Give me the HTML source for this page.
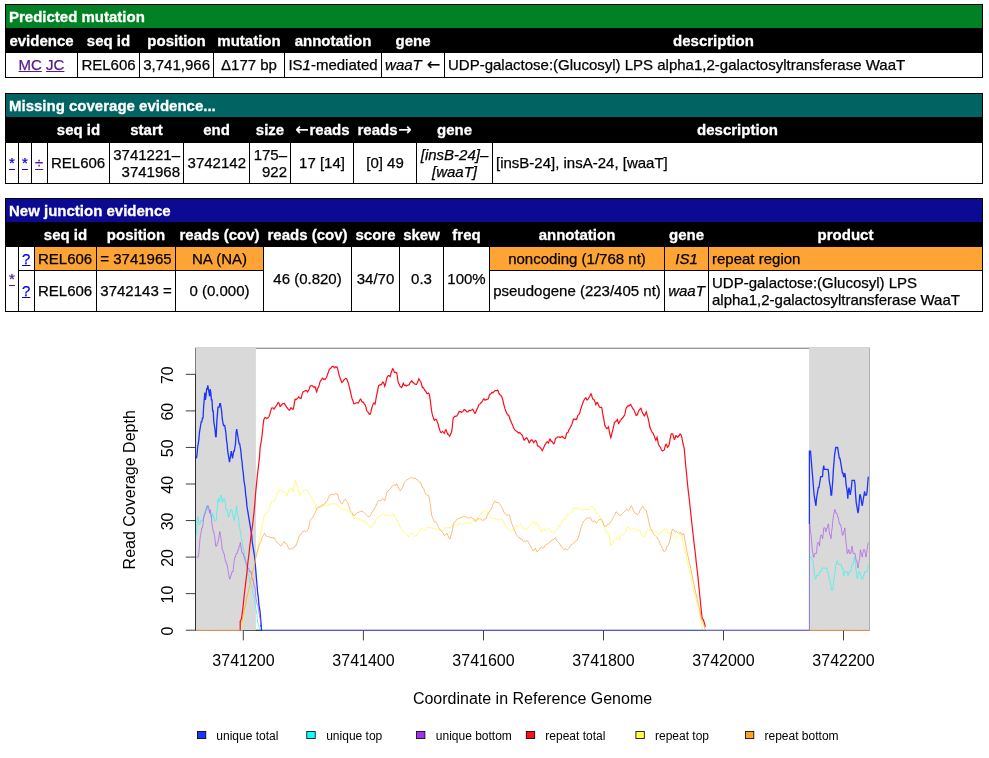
<!DOCTYPE html>
<html>
<head>
<meta charset="utf-8">
<title>BRESEQ :: Evidence</title>
<style>
html,body{margin:0;padding:0;background:#fff;}
body{font-family:"Liberation Sans",Arial,Helvetica,sans-serif;font-size:15px;color:#000;width:989px;height:758px;overflow:hidden;position:relative;}
table{border-collapse:separate;border-spacing:1px;background:#010000;color:#000;position:absolute;left:5px;width:978px;table-layout:fixed;}
th{-webkit-text-stroke:0.3px #fff;background:#000;color:#fff;font-weight:bold;padding:3px 3px 0;vertical-align:top;text-align:center;white-space:nowrap;line-height:17px;overflow:visible;}
td{-webkit-text-stroke:0.25px currentColor;padding:0 3px;line-height:17px;background:#fff;white-space:nowrap;overflow:visible;}
td.u{padding-bottom:2px;}
td.c{text-align:center;}
td.r{text-align:right;}
th.hd{text-align:left;}
.mut th.hd{background:#008123;}
.mc th.hd{background:#026363;}
.jc th.hd{background:#0c0993;}
td.is{background:#fda434;}
a{color:#551a8b;text-decoration:underline;}
a.b{color:#0000ee;}
i{font-style:italic;}
.ar{font-family:"DejaVu Sans",sans-serif;font-weight:normal;font-style:normal;display:inline-block;width:15px;text-align:center;line-height:1;font-size:16px;vertical-align:baseline;}
#t1{top:4px;}
#t1 td{vertical-align:top;padding-top:3px;}
#t2{top:93px;}
#t3{top:198px;}
</style>
</head>
<body>
<table id="t1" class="mut">
<colgroup><col style="width:71px"><col style="width:61px"><col style="width:73px"><col style="width:70px"><col style="width:96px"><col style="width:62px"><col></colgroup>
<tr style="height:23px"><th colspan="7" class="hd">Predicted mutation</th></tr>
<tr style="height:23px"><th>evidence</th><th>seq&nbsp;id</th><th>position</th><th>mutation</th><th>annotation</th><th>gene</th><th>description</th></tr>
<tr style="height:24px"><td class="c"><a href="#">MC</a> <a href="#">JC</a></td><td class="c">REL606</td><td class="r">3,741,966</td><td class="c">Δ177 bp</td><td class="c">IS<i>1</i>-mediated</td><td class="c"><i>waaT</i>&nbsp;<span class="ar">←</span></td><td>UDP-galactose:(Glucosyl) LPS alpha1,2-galactosyltransferase WaaT</td></tr>
</table>

<table id="t2" class="mc">
<colgroup><col style="width:12px"><col style="width:12px"><col style="width:15px"><col style="width:61px"><col style="width:73px"><col style="width:65px"><col style="width:40px"><col style="width:62px"><col style="width:62px"><col style="width:75px"><col></colgroup>
<tr style="height:23px"><th colspan="11" class="hd">Missing coverage evidence...</th></tr>
<tr style="height:24px"><th>&nbsp;</th><th>&nbsp;</th><th>&nbsp;</th><th>seq&nbsp;id</th><th>start</th><th>end</th><th>size</th><th><span class="ar">←</span>reads</th><th>reads<span class="ar">→</span></th><th>gene</th><th>description</th></tr>
<tr style="height:40px"><td class="u"><a class="b" href="#">*</a></td><td class="u"><a class="b" href="#">*</a></td><td class="u"><a href="#">÷</a></td><td class="u">REL606</td><td class="r">3741221–<br>3741968</td><td class="r u">3742142</td><td class="r">175–<br>922</td><td class="c u">17 [14]</td><td class="c u">[0] 49</td><td class="c"><i>[insB-24]–<br>[waaT]</i></td><td class="u">[insB-24], insA-24, [waaT]</td></tr>
</table>

<table id="t3" class="jc">
<colgroup><col style="width:12px"><col style="width:15px"><col style="width:61px"><col style="width:78px"><col style="width:87px"><col style="width:87px"><col style="width:47px"><col style="width:43px"><col style="width:45px"><col style="width:174px"><col style="width:43px"><col></colgroup>
<tr style="height:23px"><th colspan="12" class="hd">New junction evidence</th></tr>
<tr style="height:23px"><th colspan="2">&nbsp;</th><th>seq&nbsp;id</th><th>position</th><th>reads&nbsp;(cov)</th><th>reads&nbsp;(cov)</th><th>score</th><th>skew</th><th>freq</th><th>annotation</th><th>gene</th><th>product</th></tr>
<tr style="height:23px"><td rowspan="2" class="u"><a href="#">*</a></td><td><a class="b" href="#">?</a></td><td class="is">REL606</td><td class="is c">=&nbsp;3741965</td><td class="is c">NA (NA)</td><td rowspan="2" class="c u">46 (0.820)</td><td rowspan="2" class="c u">34/70</td><td rowspan="2" class="c u">0.3</td><td rowspan="2" class="c u">100%</td><td class="is c">noncoding&nbsp;(1/768&nbsp;nt)</td><td class="is c"><i>IS1</i></td><td class="is">repeat region</td></tr>
<tr style="height:40px"><td class="u"><a class="b" href="#">?</a></td><td class="u">REL606</td><td class="c u">3742143&nbsp;=</td><td class="c u">0 (0.000)</td><td class="c u">pseudogene&nbsp;(223/405&nbsp;nt)</td><td class="c u"><i>waaT</i></td><td style="white-space:normal">UDP-galactose:(Glucosyl) LPS alpha1,2-galactosyltransferase WaaT</td></tr>
</table>

<svg id="plot" width="989" height="438" viewBox="0 320 989 438" style="position:absolute;left:0;top:320px;font-family:'Liberation Sans',Arial,sans-serif;">
<rect x="195.5" y="348.2" width="673.8" height="282.1" fill="none" stroke="#000" stroke-opacity="0.55" stroke-width="1"/>
<g stroke="#000" stroke-opacity="0.75" stroke-width="1" fill="none">
<path d="M195.5 374.35V630.2"/>
<path d="M185.8 374.35H195.5M185.8 410.90H195.5M185.8 447.45H195.5M185.8 484.00H195.5M185.8 520.55H195.5M185.8 557.10H195.5M185.8 593.65H195.5M185.8 630.20H195.5"/>
<path d="M243.3 630.3H262"/>
<path d="M243.3 630.3V640.4M363.4 630.3V640.4M483.5 630.3V640.4M603.5 630.3V640.4M723.5 630.3V640.4M843.5 630.3V640.4"/>
</g>
<rect x="195.9" y="347.9" width="60" height="282.3" fill="#d9d9d9"/>
<rect x="809.1" y="347.9" width="60.35" height="282.3" fill="#d9d9d9"/>
<g id="curves" fill="none" stroke-linejoin="miter">
<path stroke="#1c34fa" stroke-width="1.3" d="M196.4 458.4L197.0 454.8L197.6 447.5L198.2 443.8L198.8 440.1L199.4 432.8L200.0 429.2L200.6 425.5L201.2 421.9L201.8 421.9L202.4 418.2L203.0 418.2L203.6 407.2L204.2 399.9L204.8 392.6L205.4 399.9L206.0 396.3L206.6 389.0L207.2 389.0L207.8 385.3L208.4 389.0L209.0 392.6L209.6 396.3L210.2 389.0L210.8 392.6L211.4 399.9L212.0 399.9L212.6 410.9L213.2 410.9L213.8 421.9L214.4 425.5L215.0 429.2L215.6 436.5L216.2 436.5L216.8 421.9L217.4 414.6L218.0 407.2L219.2 407.2L219.8 403.6L220.4 403.6L221.0 407.2L221.6 410.9L222.2 418.2L222.8 421.9L223.5 425.5L224.7 425.5L225.3 429.2L225.9 432.8L226.5 440.1L227.1 443.8L227.7 451.1L228.3 454.8L228.9 458.4L229.5 462.1L230.1 458.4L230.7 454.8L231.3 451.1L231.9 454.8L232.5 458.4L233.1 454.8L233.7 451.1L234.3 451.1L234.9 447.5L235.5 443.8L236.1 432.8L236.7 429.2L237.3 432.8L237.9 436.5L238.5 440.1L239.1 443.8L239.7 443.8L240.3 447.5L240.9 451.1L241.5 458.4L242.1 462.1L242.7 469.4L243.3 473.0L243.9 480.3L244.5 484.0L245.1 487.7L245.7 495.0L246.3 498.6L246.9 505.9L247.5 509.6L248.1 513.2L248.7 516.9L249.3 520.6L249.9 524.2L250.5 527.9L251.1 531.5L251.7 535.2L252.3 542.5L252.9 546.1L253.5 549.8L254.1 553.4L254.7 557.1L255.3 564.4L255.9 571.7L256.5 579.0L257.1 586.3L257.7 593.7L258.3 597.3L258.9 604.6L259.5 608.3L260.1 611.9L260.7 619.2L261.3 626.5"/>
<path stroke="#1c34fa" stroke-width="1.3" d="M809.9 451.1L810.5 451.1L811.1 458.4L811.7 465.7L812.3 473.0L812.9 480.3L813.5 487.7L814.1 495.0L814.7 498.6L815.3 502.3L815.9 505.9L816.5 498.6L817.1 495.0L817.7 491.3L818.3 487.7L818.9 487.7L819.5 484.0L820.1 480.3L820.7 476.7L822.5 476.7L823.1 469.4L823.7 465.7L824.3 469.4L828.0 469.4L828.6 473.0L829.2 480.3L829.8 484.0L830.4 487.7L831.0 495.0L831.6 495.0L832.2 487.7L832.8 480.3L833.4 469.4L834.0 462.1L834.6 454.8L835.2 451.1L835.8 447.5L837.6 447.5L838.2 451.1L838.8 454.8L839.4 458.4L840.0 458.4L840.6 462.1L841.2 465.7L841.8 469.4L842.4 473.0L843.0 473.0L843.6 476.7L844.2 476.7L844.8 473.0L845.4 476.7L846.0 484.0L846.6 487.7L847.2 491.3L847.8 498.6L848.4 491.3L849.0 487.7L849.6 491.3L850.2 495.0L850.8 491.3L851.4 487.7L852.0 480.3L854.4 480.3L855.0 484.0L855.6 495.0L856.2 502.3L856.8 505.9L857.4 509.6L858.0 513.2L858.6 509.6L859.2 502.3L859.8 495.0L860.4 495.0L861.0 498.6L861.6 502.3L862.2 505.9L862.8 502.3L863.4 498.6L864.0 495.0L864.6 491.3L865.3 495.0L866.5 495.0L867.1 491.3L867.7 484.0L868.3 476.7"/>
<path stroke="#3df2f2" stroke-width="0.75" d="M196.4 535.2L197.0 524.2L197.6 516.9L198.2 516.9L198.8 524.2L200.0 524.2L200.6 520.6L203.0 520.6L203.6 516.9L204.2 513.2L204.8 513.2L205.4 509.6L206.0 509.6L206.6 505.9L207.2 505.9L207.8 509.6L209.6 509.6L210.2 513.2L210.8 516.9L212.0 516.9L212.6 513.2L213.2 516.9L213.8 516.9L214.4 520.6L216.2 520.6L216.8 513.2L217.4 505.9L218.0 498.6L218.6 498.6L219.2 502.3L219.8 498.6L220.4 498.6L221.0 495.0L221.6 498.6L222.2 502.3L222.8 502.3L223.5 498.6L224.7 498.6L225.3 502.3L225.9 509.6L227.1 509.6L227.7 513.2L228.3 516.9L228.9 516.9L229.5 513.2L230.1 513.2L230.7 509.6L231.9 509.6L232.5 513.2L233.1 516.9L233.7 516.9L234.3 520.6L234.9 516.9L235.5 513.2L236.1 509.6L236.7 505.9L237.3 513.2L237.9 516.9L238.5 516.9L239.1 524.2L239.7 527.9L240.3 531.5L240.9 535.2L241.5 538.8L242.1 542.5L242.7 546.1L243.3 549.8L243.9 549.8L244.5 553.4L245.1 557.1L245.7 560.8L246.3 564.4L246.9 568.1L247.5 571.7L248.1 575.4L248.7 575.4L249.3 579.0L249.9 582.7L250.5 582.7L251.1 586.3L251.7 586.3L252.3 590.0L252.9 593.7L253.5 593.7L254.1 597.3L254.7 601.0L255.3 604.6L255.9 608.3L256.5 611.9L257.1 615.6L257.7 622.9L258.3 622.9L258.9 626.5L259.5 630.2"/>
<path stroke="#3df2f2" stroke-width="0.75" d="M809.9 557.1L811.7 557.1L812.3 560.8L812.9 560.8L813.5 564.4L814.1 571.7L814.7 575.4L815.3 579.0L815.9 579.0L816.5 575.4L818.9 575.4L819.5 571.7L821.3 571.7L821.9 568.1L826.8 568.1L827.4 571.7L828.0 571.7L828.6 575.4L829.2 579.0L829.8 579.0L830.4 582.7L831.0 586.3L831.6 590.0L832.8 590.0L833.4 582.7L834.0 579.0L834.6 575.4L835.2 571.7L835.8 564.4L836.4 564.4L837.0 560.8L837.6 560.8L838.2 564.4L841.2 564.4L841.8 568.1L843.0 568.1L843.6 575.4L844.2 575.4L844.8 571.7L847.2 571.7L847.8 575.4L848.4 575.4L849.0 571.7L850.8 571.7L851.4 568.1L852.0 564.4L853.2 564.4L853.8 560.8L854.4 557.1L855.0 560.8L855.6 564.4L856.2 571.7L856.8 575.4L857.4 579.0L858.0 575.4L858.6 571.7L859.8 571.7L860.4 575.4L861.0 575.4L861.6 579.0L862.8 579.0L863.4 575.4L864.0 575.4L864.6 571.7L867.1 571.7L867.7 568.1L868.3 564.4"/>
<path stroke="#b060ea" stroke-width="0.75" d="M196.4 557.1L198.2 557.1L198.8 553.4L199.4 546.1L200.0 538.8L200.6 535.2L201.2 531.5L201.8 527.9L202.4 527.9L203.0 524.2L203.6 516.9L204.2 516.9L204.8 513.2L205.4 513.2L206.0 509.6L206.6 509.6L207.2 505.9L208.4 505.9L209.0 509.6L209.6 513.2L210.2 509.6L210.8 513.2L211.4 516.9L212.0 524.2L212.6 527.9L213.2 531.5L213.8 531.5L214.4 535.2L215.0 538.8L215.6 546.1L216.8 546.1L217.4 542.5L218.0 542.5L218.6 538.8L219.2 535.2L219.8 531.5L220.4 535.2L221.0 538.8L221.6 542.5L222.2 549.8L222.8 549.8L223.5 553.4L224.1 553.4L224.7 557.1L225.3 560.8L225.9 560.8L226.5 564.4L227.1 564.4L227.7 568.1L228.3 571.7L228.9 575.4L229.5 579.0L230.1 579.0L230.7 575.4L231.3 575.4L231.9 571.7L233.1 571.7L233.7 564.4L234.3 560.8L234.9 557.1L235.5 557.1L236.1 553.4L237.3 553.4L237.9 549.8L238.5 549.8L239.1 546.1L239.7 546.1L240.3 542.5L240.9 546.1L241.5 549.8L242.1 553.4L243.3 553.4L243.9 557.1L244.5 557.1L245.1 560.8L245.7 560.8L246.3 564.4L246.9 564.4L247.5 568.1L248.7 568.1L249.3 571.7L251.1 571.7L251.7 575.4L252.3 579.0L252.9 579.0L253.5 582.7L254.1 586.3L254.7 586.3L255.3 590.0L255.9 597.3L256.5 601.0L257.1 604.6L257.7 604.6L258.3 608.3L258.9 611.9L259.5 615.6L260.1 619.2L260.7 626.5"/>
<path stroke="#b060ea" stroke-width="0.75" d="M809.9 524.2L810.5 531.5L811.1 535.2L811.7 542.5L812.3 549.8L812.9 553.4L813.5 557.1L814.1 557.1L814.7 553.4L816.5 553.4L817.1 546.1L817.7 542.5L818.9 542.5L819.5 546.1L820.1 538.8L820.7 535.2L821.9 535.2L822.5 538.8L823.1 535.2L823.7 527.9L825.0 527.9L825.6 531.5L826.2 531.5L826.8 527.9L827.4 527.9L828.0 524.2L828.6 524.2L829.2 531.5L829.8 535.2L830.4 535.2L831.0 538.8L831.6 531.5L832.2 527.9L832.8 520.6L833.4 516.9L834.0 513.2L834.6 509.6L835.2 509.6L835.8 513.2L837.0 513.2L837.6 516.9L838.2 516.9L838.8 520.6L839.4 524.2L840.6 524.2L841.2 527.9L841.8 531.5L842.4 535.2L843.0 535.2L843.6 531.5L844.2 531.5L844.8 527.9L845.4 535.2L846.0 542.5L846.6 546.1L847.2 553.4L847.8 553.4L848.4 549.8L849.0 549.8L849.6 553.4L850.8 553.4L851.4 549.8L852.0 546.1L852.6 549.8L853.2 553.4L855.0 553.4L855.6 557.1L856.2 560.8L856.8 560.8L857.4 564.4L858.0 568.1L858.6 564.4L859.2 560.8L859.8 557.1L860.4 549.8L861.0 553.4L861.6 553.4L862.2 557.1L862.8 553.4L863.4 549.8L864.6 549.8L865.3 553.4L865.9 557.1L866.5 553.4L867.1 549.8L867.7 546.1L868.3 542.5"/>
<path stroke="#fc0d1b" stroke-width="1.2" d="M240.3 621.0L240.9 619.8L241.5 618.5L242.1 614.2L242.7 609.7L243.3 604.4L243.9 598.2L244.5 592.7L245.1 587.9L245.7 582.6L246.3 577.9L246.9 572.7L247.5 566.2L248.1 560.7L248.7 556.4L249.3 550.9L249.9 545.3L250.5 540.4L251.1 535.1L251.7 530.5L252.3 527.1L252.9 522.5L253.5 516.7L254.1 511.3L254.7 505.1L255.3 497.2L255.9 490.1L256.5 484.2L257.1 478.3L257.7 472.8L258.3 467.5L258.9 462.3L259.5 457.1L260.1 447.6L260.7 444.6L261.3 441.0L261.9 436.8L262.5 431.1L263.1 425.2L263.8 419.7L264.4 418.6L265.0 417.5L265.6 417.7L266.2 418.0L266.8 418.6L267.4 418.0L268.0 417.7L268.6 417.1L269.2 416.3L269.8 414.4L270.4 411.9L271.0 409.9L271.6 408.1L272.2 408.0L272.8 407.8L273.4 408.2L274.0 409.1L274.6 408.2L275.2 407.3L275.8 406.4L276.4 405.5L277.0 404.7L277.6 403.3L278.2 402.5L278.8 403.0L279.4 404.2L280.0 406.5L280.6 406.2L281.2 405.2L281.8 404.8L282.4 404.0L283.0 403.6L283.6 403.7L284.2 403.4L284.8 404.4L285.4 405.4L286.0 406.2L286.6 407.2L287.2 407.9L287.8 408.6L288.4 409.4L289.0 410.1L289.6 410.1L290.2 409.1L290.8 407.8L291.4 408.0L292.0 408.7L292.6 409.1L293.2 409.3L293.8 406.6L294.4 403.1L295.0 399.3L295.6 399.4L296.2 399.5L296.8 399.1L297.4 398.4L298.0 397.8L298.6 396.8L299.2 397.3L299.8 398.1L300.4 398.4L301.0 398.5L301.6 396.3L302.2 394.1L302.8 392.3L303.5 391.5L304.1 391.3L304.7 391.0L305.3 390.4L305.9 390.8L306.5 390.6L307.1 391.0L307.7 392.0L308.3 390.7L308.9 389.8L309.5 388.4L310.1 386.1L310.7 385.9L311.3 385.7L311.9 385.5L312.5 386.0L313.1 386.3L313.7 387.0L314.3 387.4L314.9 386.7L315.5 387.8L316.1 390.3L316.7 391.8L317.3 389.5L317.9 387.8L318.5 387.0L319.1 385.4L319.7 382.8L320.3 381.2L320.9 380.3L321.5 379.9L322.1 378.7L322.7 378.2L323.3 379.0L323.9 379.5L324.5 379.1L325.1 379.5L325.7 378.7L326.3 377.8L326.9 376.2L327.5 374.4L328.1 373.1L328.7 371.3L329.3 369.4L329.9 368.7L330.5 368.6L331.1 367.9L331.7 367.2L332.3 366.5L332.9 366.2L333.5 366.5L334.1 367.6L334.7 367.9L335.3 367.0L335.9 366.8L336.5 367.4L337.1 367.3L337.7 369.1L338.3 371.4L338.9 374.0L339.5 376.1L340.1 378.1L340.7 379.9L341.3 380.9L341.9 382.6L342.5 382.2L343.1 381.2L343.8 380.2L344.4 379.3L345.0 378.9L345.6 378.4L346.2 378.5L346.8 379.1L347.4 380.7L348.0 382.2L348.6 384.2L349.2 386.7L349.8 389.0L350.4 391.5L351.0 394.3L351.6 396.8L352.2 399.0L352.8 400.3L353.4 402.6L354.0 403.9L354.6 403.8L355.2 403.4L355.8 403.1L356.4 402.7L357.0 402.6L357.6 402.9L358.2 403.1L358.8 402.3L359.4 401.1L360.0 399.6L360.6 399.1L361.2 399.7L361.8 401.5L362.4 402.1L363.0 401.9L363.6 402.5L364.2 403.8L364.8 404.5L365.4 405.5L366.0 407.3L366.6 410.2L367.2 411.4L367.8 411.8L368.4 412.7L369.0 413.8L369.6 414.3L370.2 414.2L370.8 412.7L371.4 409.5L372.0 407.3L372.6 405.6L373.2 403.9L373.8 403.0L374.4 403.3L375.0 404.1L375.6 401.3L376.2 397.5L376.8 394.3L377.4 392.0L378.0 388.8L378.6 385.5L379.2 385.3L379.8 384.9L380.4 384.7L381.0 385.0L381.6 384.1L382.2 383.1L382.8 382.1L383.4 382.4L384.1 384.2L384.7 386.2L385.3 384.5L385.9 382.3L386.5 379.5L387.1 377.3L387.7 376.4L388.3 375.7L388.9 375.7L389.5 376.0L390.1 376.6L390.7 374.3L391.3 372.3L391.9 370.8L392.5 368.8L393.1 369.0L393.7 370.5L394.3 372.2L394.9 372.6L395.5 372.3L396.1 372.7L396.7 372.8L397.3 376.0L397.9 380.7L398.5 383.0L399.1 384.0L399.7 385.5L400.3 386.5L400.9 386.8L401.5 387.6L402.1 387.0L402.7 384.7L403.3 383.3L403.9 384.6L404.5 385.5L405.1 385.3L405.7 385.2L406.3 386.1L406.9 385.8L407.5 385.5L408.1 385.1L408.7 385.0L409.3 384.6L409.9 382.9L410.5 382.3L411.1 381.8L411.7 380.8L412.3 381.6L412.9 382.4L413.5 382.6L414.1 383.4L414.7 383.9L415.3 384.2L415.9 384.3L416.5 384.4L417.1 383.3L417.7 381.8L418.3 380.3L418.9 378.8L419.5 379.7L420.1 380.8L420.7 381.5L421.3 383.3L421.9 385.8L422.5 387.5L423.1 387.4L423.8 388.2L424.4 389.7L425.0 390.5L425.6 391.1L426.2 392.1L426.8 393.5L427.4 393.7L428.0 393.4L428.6 393.1L429.2 394.0L429.8 396.8L430.4 401.4L431.0 406.4L431.6 410.8L432.2 413.9L432.8 416.1L433.4 417.9L434.0 419.8L434.6 420.3L435.2 419.5L435.8 419.2L436.4 419.8L437.0 421.1L437.6 422.6L438.2 424.7L438.8 427.0L439.4 428.9L440.0 430.8L440.6 432.2L441.2 432.7L441.8 432.1L442.4 431.3L443.0 431.9L443.6 432.3L444.2 433.2L444.8 431.9L445.4 430.4L446.0 429.8L446.6 431.4L447.2 433.1L447.8 434.3L448.4 434.3L449.0 435.2L449.6 436.3L450.2 435.3L450.8 433.7L451.4 432.5L452.0 429.7L452.6 423.5L453.2 418.3L453.8 417.4L454.4 416.7L455.0 416.2L455.6 416.3L456.2 416.1L456.8 416.0L457.4 415.0L458.0 413.9L458.6 412.9L459.2 411.4L459.8 411.6L460.4 411.7L461.0 411.9L461.6 412.4L462.2 411.9L462.8 411.4L463.4 410.8L464.1 409.6L464.7 409.6L465.3 410.3L465.9 410.6L466.5 411.8L467.1 412.0L467.7 411.9L468.3 411.5L468.9 410.6L469.5 410.2L470.1 410.8L470.7 410.6L471.3 410.0L471.9 409.8L472.5 409.1L473.1 409.8L473.7 411.2L474.3 412.2L474.9 413.3L475.5 412.8L476.1 411.2L476.7 409.7L477.3 408.6L477.9 407.5L478.5 405.4L479.1 404.2L479.7 404.0L480.3 403.7L480.9 402.8L481.5 402.6L482.1 401.7L482.7 400.7L483.3 399.3L483.9 398.7L484.5 400.0L485.1 400.2L485.7 399.7L486.3 399.5L486.9 399.7L487.5 399.3L488.1 399.1L488.7 397.7L489.3 395.2L489.9 394.1L490.5 394.2L491.1 393.7L491.7 392.6L492.3 392.2L492.9 392.8L493.5 392.2L494.1 391.6L494.7 391.0L495.3 390.6L497.1 390.6L497.7 390.0L498.3 391.2L498.9 393.3L499.5 394.5L500.1 394.8L500.7 395.1L501.3 396.2L501.9 397.1L502.5 398.7L503.1 401.4L503.7 404.1L504.4 406.5L505.0 408.9L505.6 410.5L506.2 412.1L506.8 413.2L507.4 414.4L508.0 415.2L508.6 415.2L509.2 416.5L509.8 418.8L510.4 420.4L511.0 421.5L511.6 422.9L512.2 424.2L512.8 425.5L513.4 427.4L514.0 428.5L514.6 429.5L515.2 430.4L515.8 430.7L516.4 431.2L517.0 431.6L517.6 432.1L518.2 432.8L518.8 433.1L519.4 432.5L520.0 432.8L520.6 433.6L521.2 434.1L521.8 434.7L522.4 435.8L523.0 437.4L523.6 439.1L524.2 440.1L524.8 439.8L525.4 438.6L526.0 438.3L526.6 437.8L527.2 438.4L527.8 439.5L528.4 440.5L529.0 442.7L529.6 442.7L530.2 441.0L530.8 440.3L531.4 439.9L532.0 439.8L532.6 440.6L533.2 441.6L533.8 442.7L534.4 441.8L535.0 440.8L535.6 440.4L536.2 441.3L536.8 442.7L537.4 445.4L538.0 446.2L538.6 446.1L539.2 446.7L539.8 447.1L540.4 447.8L541.0 448.7L541.6 449.3L542.2 450.6L542.8 449.5L543.4 448.2L544.0 446.9L544.7 445.2L545.3 444.2L545.9 443.3L546.5 442.3L547.1 441.7L547.7 441.9L548.3 443.1L548.9 442.1L549.5 439.6L550.1 439.0L550.7 440.4L551.3 441.4L551.9 441.4L552.5 442.1L553.1 443.1L553.7 443.9L554.3 443.3L554.9 441.2L555.5 438.5L556.1 438.0L556.7 437.7L557.3 437.2L557.9 436.8L558.5 437.0L559.1 436.9L559.7 437.1L560.3 437.6L560.9 437.3L561.5 436.4L562.1 436.2L562.7 437.1L563.3 437.5L563.9 438.1L564.5 438.5L565.1 438.6L565.7 437.2L566.3 434.6L566.9 432.9L567.5 432.8L568.1 432.1L568.7 430.2L569.3 429.5L569.9 428.2L570.5 427.0L571.1 425.9L571.7 424.7L572.3 423.1L572.9 421.0L573.5 419.1L574.1 419.3L574.7 419.2L575.3 419.3L575.9 419.2L576.5 419.4L577.1 417.8L577.7 415.7L578.3 414.9L578.9 414.3L579.5 413.4L580.1 411.6L580.7 409.1L581.3 407.3L581.9 405.6L582.5 404.0L583.1 402.3L583.7 400.7L584.4 399.5L585.0 398.5L585.6 397.8L586.2 398.1L586.8 399.8L587.4 399.8L588.0 399.1L588.6 398.2L589.2 397.2L589.8 396.3L590.4 394.7L591.0 393.8L591.6 395.2L592.2 397.4L592.8 399.0L593.4 399.3L594.0 399.6L594.6 401.0L595.2 402.6L595.8 404.7L596.4 403.8L597.0 402.5L597.6 402.6L598.2 404.7L598.8 405.5L599.4 407.0L600.0 407.5L600.6 407.5L601.2 407.2L601.8 407.8L602.4 411.6L603.0 415.1L603.6 418.2L604.2 421.7L604.8 425.3L605.4 426.6L606.0 427.5L606.6 428.7L607.2 428.7L607.8 427.8L608.4 426.8L609.0 429.5L609.6 432.8L610.2 435.3L610.8 437.7L611.4 435.9L612.0 433.2L612.6 430.6L613.2 428.3L613.8 425.7L614.4 422.6L615.0 422.0L615.6 421.6L616.2 421.0L616.8 420.1L617.4 419.5L618.0 421.8L618.6 423.5L619.2 422.6L619.8 421.4L620.4 420.4L621.0 419.9L621.6 419.0L622.2 418.5L622.8 417.7L623.4 416.9L624.0 415.9L624.7 415.0L625.3 412.0L625.9 408.9L626.5 407.3L627.1 407.0L627.7 405.9L628.3 405.6L628.9 406.1L629.5 405.8L630.1 404.7L630.7 404.4L631.3 405.7L631.9 406.8L632.5 408.0L633.1 409.0L633.7 409.4L634.3 410.9L634.9 412.2L635.5 413.5L636.1 415.4L636.7 415.4L637.3 414.6L637.9 413.3L638.5 411.1L639.1 410.4L639.7 409.5L640.3 408.8L640.9 408.3L641.5 409.6L642.1 411.9L642.7 413.3L643.3 413.9L643.9 415.4L644.5 415.9L645.1 414.5L645.7 413.2L646.3 411.8L646.9 414.1L647.5 416.4L648.1 418.2L648.7 421.2L649.3 424.0L649.9 427.0L650.5 428.9L651.1 429.9L651.7 431.5L652.3 432.6L652.9 433.0L653.5 434.2L654.1 435.8L654.7 437.3L655.3 438.9L655.9 440.2L656.5 438.7L657.1 437.3L657.7 440.6L658.3 443.7L658.9 445.1L659.5 446.4L660.1 446.8L660.7 447.9L661.3 449.5L661.9 450.4L662.5 450.9L663.1 450.5L663.7 450.3L664.4 449.6L665.0 446.8L665.6 444.9L666.2 444.2L666.8 445.3L667.4 447.3L668.0 446.9L668.6 445.9L669.2 444.4L669.8 440.7L670.4 437.6L671.0 434.5L671.6 433.6L672.2 433.8L672.8 434.0L673.4 436.3L674.0 439.0L674.6 439.4L675.2 437.8L675.8 435.8L676.4 435.9L677.0 436.8L677.6 437.3L678.2 436.9L678.8 435.6L679.4 435.4L680.0 434.0L680.6 434.3L681.2 435.2L681.8 437.2L682.4 440.6L683.0 443.5L683.6 445.8L684.2 448.4L684.8 454.9L685.4 462.3L686.0 468.3L686.6 474.0L687.2 480.8L687.8 486.8L688.4 492.1L689.0 496.8L689.6 502.0L690.2 508.0L690.8 513.6L691.4 519.2L692.0 524.8L692.6 530.1L693.2 535.3L693.8 540.9L694.4 546.2L695.0 550.5L695.6 555.7L696.2 562.0L696.8 567.2L697.4 571.8L698.0 577.4L698.6 583.8L699.2 589.7L699.8 595.5L700.4 601.7L701.0 607.7L701.6 613.5L702.2 618.5L702.8 618.9L703.4 620.0L704.0 621.7L704.7 624.1L705.3 626.8"/>
<path stroke="#fff646" stroke-width="0.7" d="M240.9 629.2L241.5 627.7L242.1 626.0L242.7 622.6L243.3 619.5L243.9 616.2L244.5 612.8L245.1 609.4L245.7 606.2L246.3 603.5L246.9 601.0L247.5 598.4L248.1 595.5L248.7 592.8L249.3 589.7L249.9 587.0L250.5 585.2L251.1 582.4L251.7 578.2L252.3 575.2L252.9 573.5L253.5 570.5L254.1 567.2L254.7 563.9L255.3 559.8L255.9 556.4L256.5 552.8L257.1 549.7L257.7 547.5L258.3 544.4L258.9 540.6L259.5 537.8L260.1 536.1L260.7 533.2L261.3 529.5L261.9 526.6L262.5 524.2L263.1 521.0L263.8 517.3L264.4 514.8L265.0 513.7L265.6 513.1L266.2 513.6L266.8 513.0L267.4 512.3L268.0 511.7L268.6 510.6L269.2 508.8L269.8 506.8L270.4 505.1L271.0 502.9L271.6 501.1L272.2 500.9L272.8 501.1L273.4 501.6L274.0 501.8L274.6 500.4L275.2 498.9L275.8 497.9L276.4 496.2L277.0 493.9L277.6 492.1L278.2 491.3L278.8 490.8L279.4 491.0L280.0 491.2L280.6 490.8L281.2 491.0L281.8 490.7L282.4 491.0L283.0 492.3L283.6 492.6L284.2 491.9L284.8 492.7L285.4 493.7L286.0 494.5L286.6 496.2L287.2 495.0L287.8 493.0L288.4 491.4L289.0 489.4L289.6 488.8L290.2 489.2L290.8 489.0L291.4 488.3L292.0 489.6L292.6 491.6L293.2 491.4L293.8 487.9L294.4 485.3L295.0 482.4L295.6 480.6L296.2 483.3L296.8 484.9L297.4 485.7L298.0 488.0L298.6 490.5L299.2 492.9L299.8 495.3L300.4 495.3L301.0 494.1L301.6 493.2L302.2 493.1L302.8 492.2L303.5 490.9L304.1 490.6L304.7 489.9L305.3 489.7L305.9 490.0L306.5 489.7L307.1 490.6L307.7 491.5L308.3 491.5L308.9 492.4L309.5 494.2L310.1 495.4L310.7 496.3L311.3 497.5L311.9 498.7L312.5 499.7L313.1 501.0L313.7 502.0L314.3 502.5L314.9 504.3L315.5 506.5L316.1 508.3L316.7 509.3L317.3 508.8L317.9 509.3L318.5 508.7L319.1 507.5L319.7 506.8L320.3 506.1L320.9 505.3L321.5 504.2L322.1 504.0L322.7 504.6L323.3 504.8L323.9 505.2L324.5 505.4L325.1 505.2L325.7 505.4L326.3 505.7L326.9 505.7L327.5 506.1L328.1 505.8L328.7 504.7L329.3 504.4L329.9 504.2L330.5 504.0L331.1 504.4L331.7 504.2L332.3 503.7L332.9 503.6L333.5 503.8L334.1 503.9L334.7 503.9L335.3 504.0L335.9 504.6L336.5 505.0L337.1 504.4L337.7 504.8L338.3 506.2L338.9 506.8L339.5 506.6L340.1 507.2L340.7 508.8L341.3 509.3L341.9 509.1L342.5 509.5L343.1 510.2L343.8 510.2L344.4 509.5L345.0 509.2L345.6 509.2L346.2 509.0L346.8 508.6L347.4 509.3L348.0 510.5L348.6 511.2L349.2 511.8L349.8 512.6L350.4 513.0L351.0 513.8L351.6 514.4L352.2 515.2L352.8 516.9L353.4 517.7L354.0 517.8L354.6 518.3L355.2 518.3L355.8 518.5L356.4 518.8L357.0 518.9L357.6 518.8L358.2 518.6L358.8 519.3L359.4 519.1L360.0 518.0L360.6 518.5L361.2 518.9L361.8 519.5L362.4 521.0L363.0 521.2L363.6 521.3L364.2 521.3L364.8 520.7L365.4 521.1L366.0 522.8L366.6 523.6L367.2 524.1L367.8 524.9L368.4 524.6L369.0 525.5L369.6 526.7L370.2 527.5L370.8 528.2L371.4 527.4L372.0 525.3L372.6 524.5L373.2 523.8L373.8 523.2L374.4 523.4L375.0 522.8L375.6 520.7L376.2 519.3L376.8 518.5L377.4 517.1L378.0 517.0L378.6 516.8L379.2 516.0L379.8 515.8L380.4 515.7L381.0 515.2L381.6 514.4L382.2 514.0L382.8 513.4L383.4 513.0L384.1 514.0L384.7 514.6L385.3 515.5L385.9 516.2L386.5 515.2L387.1 514.9L387.7 514.8L388.3 514.5L388.9 515.7L389.5 516.3L390.1 516.0L390.7 516.2L391.3 515.6L391.9 514.7L392.5 513.2L393.1 513.7L393.7 515.5L394.3 516.3L394.9 516.1L395.5 517.3L396.1 518.5L396.7 520.0L397.3 521.4L397.9 522.6L398.5 523.5L399.1 524.5L399.7 526.2L400.3 527.1L400.9 528.1L401.5 529.0L402.1 530.0L402.7 530.8L403.3 530.9L403.9 531.7L404.5 532.6L405.1 533.3L405.7 533.4L406.3 534.0L406.9 534.8L407.5 535.4L408.1 536.9L408.7 537.1L409.3 535.6L409.9 535.0L410.5 533.9L411.1 533.2L411.7 533.4L412.3 534.0L412.9 534.0L413.5 534.8L414.1 536.4L414.7 536.4L415.3 535.9L415.9 535.6L416.5 535.7L417.1 534.8L417.7 533.4L418.3 532.4L418.9 531.6L419.5 530.6L420.1 529.2L420.7 529.0L421.3 528.9L421.9 528.7L422.5 528.6L423.1 529.4L423.8 529.7L424.4 530.1L425.0 530.3L425.6 529.5L426.2 529.0L426.8 528.3L427.4 527.3L428.0 527.3L428.6 527.5L429.2 527.5L429.8 527.8L430.4 527.9L431.0 527.4L431.6 527.6L432.2 528.2L432.8 528.4L433.4 528.2L434.0 528.3L434.6 529.3L435.2 529.5L435.8 528.8L436.4 528.9L437.0 528.7L437.6 529.0L438.2 529.9L438.8 530.3L439.4 529.9L440.0 530.2L440.6 530.5L441.2 530.7L441.8 531.0L442.4 531.2L443.0 530.4L443.6 529.4L444.2 528.4L444.8 527.4L445.4 527.5L446.0 527.6L446.6 528.0L447.2 528.1L447.8 527.8L448.4 527.9L449.0 528.0L449.6 527.6L450.2 527.6L450.8 527.3L451.4 526.4L452.0 526.0L452.6 525.0L453.2 524.6L453.8 524.9L454.4 524.7L455.0 524.1L455.6 524.3L456.2 524.5L456.8 524.6L457.4 524.7L458.0 524.4L458.6 524.4L459.2 524.1L459.8 524.2L460.4 523.9L461.0 523.4L461.6 523.5L462.2 524.2L462.8 524.4L463.4 523.7L464.1 523.8L464.7 523.4L465.3 523.1L465.9 523.8L466.5 523.5L467.1 523.4L467.7 523.2L468.3 522.2L468.9 522.2L469.5 522.8L470.1 522.8L470.7 523.3L471.3 523.0L471.9 521.8L472.5 521.4L473.1 520.5L473.7 520.1L474.3 520.2L474.9 520.0L475.5 520.7L476.1 520.3L476.7 518.5L477.3 517.7L477.9 517.5L478.5 516.7L479.1 516.4L479.7 515.8L480.3 514.4L480.9 513.8L481.5 512.9L482.1 512.1L482.7 512.4L483.3 511.6L483.9 511.3L484.5 511.0L485.1 510.2L485.7 510.0L486.3 511.0L486.9 511.8L487.5 512.4L488.1 513.2L488.7 513.4L489.3 514.0L489.9 515.5L490.5 516.1L491.1 516.9L491.7 517.7L492.3 518.2L492.9 519.0L493.5 518.5L494.1 518.3L494.7 519.1L495.3 518.9L495.9 518.7L496.5 518.9L497.1 519.2L497.7 519.4L498.3 519.8L498.9 520.3L499.5 519.8L500.1 520.4L500.7 519.9L501.3 518.7L501.9 518.7L502.5 520.1L503.1 520.9L503.7 522.1L504.4 523.7L505.0 524.9L505.6 526.3L506.2 527.3L506.8 528.0L507.4 528.6L508.0 529.3L508.6 529.8L509.2 530.0L509.8 530.4L510.4 531.0L511.0 531.4L511.6 530.7L512.2 530.3L512.8 530.0L513.4 529.6L514.0 528.4L514.6 527.8L515.2 527.8L515.8 527.2L516.4 526.5L517.0 526.3L517.6 526.7L518.2 526.5L518.8 525.2L519.4 525.0L520.0 524.7L520.6 524.5L521.2 525.0L521.8 526.0L522.4 527.8L523.0 528.8L523.6 529.8L524.2 530.2L524.8 529.5L525.4 529.4L526.0 529.2L526.6 528.6L527.2 528.6L527.8 528.0L528.4 527.2L529.0 526.8L529.6 526.4L530.2 525.8L530.8 524.0L531.4 522.6L532.0 521.7L532.6 521.4L533.2 521.4L533.8 522.2L534.4 524.1L535.0 524.0L535.6 523.7L536.2 523.6L536.8 522.5L537.4 523.4L538.0 525.3L538.6 526.2L539.2 526.2L539.8 527.4L540.4 529.3L541.0 530.5L541.6 531.9L542.2 531.6L542.8 529.8L543.4 529.0L544.0 528.8L544.7 529.1L545.3 530.1L545.9 530.5L546.5 529.7L547.1 529.2L547.7 528.4L548.3 527.9L548.9 528.1L549.5 528.7L550.1 530.2L550.7 530.8L551.3 531.9L551.9 532.5L552.5 531.8L553.1 532.4L553.7 533.3L554.3 532.7L554.9 531.7L555.5 531.1L556.1 530.8L556.7 529.6L557.3 528.6L557.9 527.4L558.5 525.7L559.1 525.3L559.7 525.7L560.3 525.3L560.9 525.0L561.5 523.8L562.1 522.1L562.7 520.7L563.3 519.0L563.9 518.9L564.5 518.8L565.1 519.4L565.7 518.9L566.3 517.1L566.9 515.2L567.5 514.2L568.1 514.4L568.7 514.3L569.3 513.8L569.9 513.6L570.5 513.1L571.1 512.2L571.7 511.5L572.3 510.6L572.9 508.7L573.5 507.9L574.1 508.4L574.7 508.6L575.3 508.1L575.9 508.3L576.5 508.2L577.1 508.1L577.7 508.3L578.3 508.1L578.9 508.9L579.5 509.4L580.1 509.5L580.7 510.0L581.3 510.0L581.9 509.9L582.5 509.8L583.1 509.8L583.7 509.6L584.4 509.5L585.0 509.3L586.2 509.3L586.8 509.2L587.4 509.3L588.0 509.1L588.6 509.4L589.2 509.1L589.8 508.6L590.4 508.0L591.0 506.7L591.6 506.0L592.2 505.9L592.8 506.6L593.4 507.7L594.0 508.4L594.6 508.9L595.2 510.4L595.8 512.9L596.4 513.3L597.0 512.9L597.6 513.2L598.2 513.8L598.8 514.6L599.4 515.7L600.0 516.9L600.6 517.2L601.2 518.4L601.8 520.7L602.4 521.9L603.0 522.4L603.6 524.0L604.2 526.6L604.8 528.8L605.4 529.9L606.0 531.4L606.6 533.1L607.2 533.4L607.8 533.5L608.4 533.7L609.0 533.5L609.6 536.5L610.2 541.4L610.8 545.7L611.4 545.1L612.0 543.6L612.6 543.0L613.2 542.2L613.8 541.1L614.4 540.3L615.0 539.3L615.6 539.1L616.2 538.3L616.8 538.1L617.4 537.9L618.0 538.4L618.6 539.7L619.2 540.1L619.8 538.7L620.4 536.9L621.0 535.1L621.6 534.9L622.2 535.1L622.8 534.9L623.4 533.8L624.0 533.5L624.7 533.6L625.3 533.0L625.9 531.9L626.5 530.2L627.1 528.2L627.7 526.7L628.3 527.4L628.9 527.8L629.5 528.3L630.1 528.8L630.7 529.0L631.3 529.2L631.9 529.0L632.5 529.2L633.1 529.3L633.7 529.0L634.3 528.4L634.9 529.0L635.5 530.0L636.1 530.6L636.7 531.1L637.3 530.9L637.9 530.3L638.5 530.1L639.1 529.6L639.7 530.4L640.3 531.4L640.9 532.4L641.5 534.2L642.1 535.3L642.7 535.9L643.3 536.9L643.9 537.0L644.5 536.0L645.1 534.9L645.7 533.9L646.3 532.6L646.9 530.8L647.5 530.0L648.1 529.8L648.7 529.9L649.3 529.9L649.9 529.4L650.5 529.6L651.1 530.3L651.7 530.5L652.3 530.7L652.9 531.1L653.5 530.5L654.1 531.1L654.7 531.7L655.3 531.9L655.9 532.7L656.5 532.4L657.1 532.1L657.7 533.0L658.3 533.9L658.9 534.8L659.5 535.1L660.1 534.2L660.7 532.6L661.3 531.8L661.9 532.2L662.5 531.6L663.1 531.0L663.7 530.4L664.4 528.7L665.0 528.7L665.6 529.8L666.2 529.8L666.8 529.4L667.4 530.7L668.0 532.6L668.6 533.5L669.2 533.5L669.8 533.7L670.4 533.3L671.0 533.5L671.6 534.4L672.2 534.6L672.8 535.6L673.4 536.2L674.0 536.3L674.6 537.3L675.2 538.8L675.8 538.2L676.4 537.4L677.0 536.8L677.6 536.5L678.2 536.1L678.8 535.2L679.4 534.8L680.0 534.3L680.6 534.9L681.2 535.6L681.8 536.5L682.4 539.4L683.0 541.9L683.6 544.5L684.2 547.3L684.8 550.2L685.4 553.0L686.0 555.6L686.6 558.4L687.2 561.4L687.8 564.2L688.4 566.7L689.0 569.0L689.6 571.5L690.2 573.8L690.8 576.3L691.4 579.2L692.0 582.6L692.6 585.8L693.2 588.1L693.8 590.8L694.4 593.0L695.0 595.2L695.6 597.4L696.2 599.6L696.8 603.0L697.4 605.3L698.0 606.2L698.6 608.4L699.2 611.5L699.8 613.7L700.4 616.5L701.0 622.1L701.6 625.9L702.2 627.4L702.8 629.6"/>
<path stroke="#fd9c3c" stroke-width="0.7" d="M240.3 624.0L240.9 622.7L241.5 622.5L242.1 621.3L242.7 617.4L243.3 614.6L243.9 612.1L244.5 609.2L245.1 606.9L245.7 604.1L246.3 600.7L246.9 598.1L247.5 595.3L248.1 592.6L248.7 590.3L249.3 587.5L249.9 585.2L250.5 582.5L251.1 578.9L251.7 576.3L252.3 573.8L252.9 571.1L253.5 569.0L254.1 566.2L254.7 563.6L255.3 560.8L255.9 557.4L256.5 555.0L257.1 552.6L257.7 550.2L258.3 548.3L258.9 546.4L259.5 544.1L260.1 542.7L260.7 541.8L261.3 540.4L261.9 538.2L262.5 536.7L263.1 536.0L263.8 534.6L264.4 533.2L265.0 533.8L265.6 535.4L266.2 536.0L266.8 536.2L267.4 536.6L268.0 536.0L268.6 536.4L269.2 537.0L269.8 537.3L270.4 537.9L271.0 537.9L271.6 537.4L272.2 537.4L272.8 538.3L273.4 538.3L274.0 537.3L274.6 538.1L275.2 539.4L275.8 540.6L276.4 541.7L277.0 542.5L277.6 542.6L278.2 543.1L278.8 543.7L279.4 544.1L280.0 545.4L280.6 545.9L281.2 546.1L281.8 545.4L282.4 544.3L283.0 543.5L283.6 542.2L284.2 541.4L284.8 542.8L285.4 543.4L286.0 543.4L286.6 544.0L287.2 544.9L287.8 546.2L288.4 548.3L289.0 549.5L289.6 549.3L290.2 549.1L290.8 548.5L291.4 548.4L292.0 549.1L292.6 548.9L293.2 548.3L293.8 547.9L294.4 546.4L295.0 546.0L295.6 546.2L296.2 545.0L296.8 543.3L297.4 541.5L298.0 540.0L298.6 538.1L299.2 535.7L299.8 535.0L300.4 535.0L301.0 534.2L301.6 532.6L302.2 531.8L302.8 531.4L303.5 531.4L304.1 531.1L304.7 531.1L305.3 531.6L305.9 531.6L306.5 531.3L307.1 530.7L307.7 529.6L308.3 529.1L308.9 527.0L309.5 524.1L310.1 520.6L310.7 519.7L311.3 519.0L311.9 518.2L312.5 518.0L313.1 517.2L313.7 515.7L314.3 514.2L314.9 513.3L315.5 511.8L316.1 509.9L316.7 508.4L317.3 507.9L317.9 507.6L318.5 506.8L319.1 506.5L319.7 507.4L320.3 507.1L320.9 506.8L321.5 506.5L322.1 505.4L322.7 505.1L323.3 505.3L323.9 504.7L324.5 504.0L325.1 503.4L325.7 502.0L326.3 501.4L326.9 501.5L327.5 500.3L328.1 498.6L328.7 497.4L329.3 496.2L329.9 495.0L330.5 494.8L331.1 494.6L331.7 494.5L332.3 494.3L332.9 495.0L333.5 494.9L334.1 494.2L334.7 494.1L335.3 493.6L335.9 493.4L336.5 493.9L337.1 493.9L337.7 495.1L338.3 496.9L338.9 499.4L339.5 500.9L340.1 501.1L340.7 502.1L341.3 503.6L341.9 504.2L342.5 503.4L343.1 502.4L343.8 501.2L344.4 500.3L345.0 499.4L345.6 499.6L346.2 500.6L346.8 501.5L347.4 502.3L348.0 503.6L348.6 505.5L349.2 507.1L349.8 509.0L350.4 510.6L351.0 511.4L351.6 512.2L352.2 513.0L352.8 513.8L353.4 515.7L354.0 515.5L354.6 515.2L355.2 515.0L355.8 513.8L356.4 513.5L357.0 513.1L357.6 512.6L358.2 512.8L358.8 512.3L359.4 512.0L360.0 511.9L360.6 511.3L361.2 511.2L361.8 511.6L362.4 511.5L363.0 511.7L363.6 512.4L364.2 512.6L364.8 513.3L365.4 514.0L366.0 514.6L366.6 515.1L367.2 515.7L367.8 516.6L368.4 516.6L369.0 516.4L369.6 516.4L370.2 516.0L370.8 514.8L371.4 513.6L372.0 512.4L372.6 511.5L373.2 510.4L373.8 510.0L374.4 509.0L375.0 507.9L375.6 506.6L376.2 505.0L376.8 503.7L377.4 502.5L378.0 501.2L378.6 500.5L379.2 500.7L379.8 500.7L380.4 500.9L381.0 500.7L381.6 500.1L382.2 499.1L382.8 498.5L383.4 498.9L384.1 499.9L384.7 500.9L385.3 499.1L385.9 496.2L386.5 493.4L387.1 491.8L387.7 491.4L388.3 490.8L388.9 490.4L389.5 489.5L390.1 488.8L390.7 488.3L391.3 487.6L391.9 486.5L392.5 485.8L393.1 485.2L393.7 485.0L394.3 485.3L394.9 485.0L395.5 485.2L396.1 484.9L396.7 483.7L397.3 484.6L397.9 486.7L398.5 487.9L399.1 489.1L399.7 490.3L400.3 491.0L400.9 490.2L401.5 488.9L402.1 488.1L402.7 487.0L403.3 485.2L403.9 483.7L404.5 482.3L405.1 481.6L405.7 481.0L406.3 480.2L406.9 479.6L407.5 479.7L408.1 479.3L408.7 478.8L409.3 478.5L409.9 477.9L410.5 477.6L411.1 477.5L411.7 477.6L412.3 478.1L412.9 478.2L413.5 478.3L414.1 478.4L414.7 478.0L415.3 478.1L415.9 479.1L416.5 479.5L417.1 479.4L417.7 479.8L418.3 480.6L418.9 481.4L419.5 481.8L420.1 482.6L420.7 482.9L421.3 484.1L421.9 486.3L422.5 487.5L423.1 487.5L423.8 488.8L424.4 491.0L425.0 492.4L425.6 493.8L426.2 494.6L426.8 494.9L427.4 495.3L428.0 494.9L428.6 495.2L429.2 498.2L429.8 501.7L430.4 505.4L431.0 509.8L431.6 514.8L432.2 517.1L432.8 517.8L433.4 519.5L434.0 521.7L434.6 522.2L435.2 521.5L435.8 522.0L436.4 522.9L437.0 523.9L437.6 525.3L438.2 526.2L438.8 527.8L439.4 528.8L440.0 529.4L440.6 530.4L441.2 531.1L441.8 531.4L442.4 532.3L443.0 533.3L443.6 533.8L444.2 534.9L444.8 535.6L445.4 534.9L446.0 534.0L446.6 533.2L447.2 534.0L447.8 535.2L448.4 537.0L449.0 537.9L449.6 538.9L450.2 538.8L450.8 536.0L451.4 533.9L452.0 532.2L452.6 529.0L453.2 524.6L453.8 523.0L454.4 522.9L455.0 521.9L455.6 521.0L456.2 520.5L456.8 519.7L457.4 519.5L458.0 518.7L458.6 518.5L459.2 518.7L459.8 518.3L460.4 517.5L461.0 517.2L461.6 517.0L462.2 516.8L462.8 516.9L463.4 516.7L464.1 516.3L464.7 516.5L465.3 516.8L465.9 517.1L466.5 517.2L467.1 517.5L467.7 518.4L468.3 518.2L468.9 517.9L469.5 517.7L470.1 517.2L470.7 517.0L471.3 517.7L471.9 518.1L472.5 518.6L473.1 519.0L473.7 518.9L474.3 519.7L474.9 520.8L475.5 521.4L476.1 521.4L476.7 520.7L477.3 519.0L477.9 518.3L478.5 519.0L479.1 519.2L479.7 518.6L480.3 518.8L480.9 519.3L481.5 519.5L482.1 520.2L482.7 520.5L483.3 520.2L483.9 519.9L484.5 519.1L485.1 518.7L485.7 519.0L486.3 518.1L486.9 516.0L487.5 514.8L488.1 513.5L488.7 512.4L489.3 511.6L489.9 510.5L490.5 510.4L491.1 509.2L491.7 507.8L492.3 506.4L492.9 504.7L493.5 503.6L494.1 502.1L494.7 501.1L495.3 501.5L495.9 501.8L496.5 502.5L497.1 502.9L497.7 502.1L498.3 502.5L498.9 503.2L499.5 503.6L500.1 504.4L500.7 505.6L501.3 506.5L501.9 507.7L502.5 508.5L503.1 509.8L503.7 512.0L504.4 512.8L505.0 513.0L505.6 513.8L506.2 514.9L506.8 515.1L507.4 515.2L508.0 515.4L508.6 514.6L509.2 514.8L509.8 516.2L510.4 518.4L511.0 521.2L511.6 523.3L512.2 524.8L512.8 526.5L513.4 527.5L514.0 528.7L514.6 530.6L515.2 531.8L515.8 533.3L516.4 534.6L517.0 535.4L517.6 536.0L518.2 536.9L518.8 537.5L519.4 537.4L520.0 537.8L520.6 539.1L521.2 539.6L521.8 538.9L522.4 539.3L523.0 541.0L523.6 541.4L524.2 541.0L524.8 541.4L525.4 541.8L526.0 541.6L526.6 540.7L527.2 540.5L527.8 541.3L528.4 542.5L529.0 543.4L529.6 544.6L530.2 545.4L530.8 546.3L531.4 548.0L532.0 548.8L532.6 550.0L533.2 550.8L533.8 550.4L534.4 549.2L535.0 548.8L535.6 548.2L536.2 550.1L536.8 551.7L537.4 551.5L538.0 551.0L538.6 550.3L539.2 549.9L539.8 548.8L540.4 547.9L541.0 547.8L541.6 547.2L542.2 547.7L542.8 547.9L543.4 548.1L544.0 547.4L544.7 546.0L545.3 545.2L545.9 544.4L546.5 544.1L547.1 544.2L547.7 544.0L548.3 543.7L548.9 543.2L549.5 541.9L550.1 541.3L550.7 541.8L551.3 541.3L551.9 540.0L552.5 539.8L553.1 539.7L553.7 539.3L554.3 538.8L554.9 537.9L555.5 537.6L556.1 539.2L556.7 540.6L557.3 541.4L557.9 541.9L558.5 542.5L559.1 543.1L559.7 543.9L560.3 544.8L560.9 545.8L561.5 546.7L562.1 547.4L562.7 548.5L563.3 548.9L563.9 549.6L564.5 549.9L565.1 548.8L565.7 548.8L566.3 549.3L566.9 549.3L567.5 549.8L568.1 549.4L568.7 548.4L569.3 547.8L569.9 546.6L570.5 545.9L571.1 545.1L571.7 544.3L572.3 544.2L572.9 543.6L573.5 543.2L574.1 542.8L574.7 541.6L575.3 541.1L575.9 540.8L576.5 540.4L577.1 540.2L577.7 539.1L578.3 537.6L578.9 535.6L579.5 533.6L580.1 531.5L580.7 528.7L581.3 526.7L581.9 525.4L582.5 523.5L583.1 522.3L583.7 521.2L584.4 520.6L585.0 519.6L585.6 519.1L586.2 518.9L586.8 518.0L587.4 517.8L588.0 518.1L588.6 518.1L589.2 517.9L589.8 517.9L590.4 518.1L591.0 518.4L591.6 520.2L592.2 521.5L592.8 522.1L593.4 521.5L594.0 520.7L594.6 521.2L595.2 521.5L595.8 522.6L596.4 522.9L597.0 522.1L597.6 521.4L598.2 520.6L598.8 520.1L599.4 519.6L600.0 519.6L600.6 519.2L601.2 519.3L601.8 520.2L602.4 520.9L603.0 522.4L603.6 523.9L604.2 525.5L604.8 526.5L605.4 526.3L606.0 526.1L606.6 525.9L607.2 524.9L607.8 524.5L608.4 524.5L609.0 524.1L609.6 523.3L610.2 522.3L610.8 521.8L611.4 520.8L612.0 519.7L612.6 518.5L613.2 517.6L613.8 516.4L614.4 515.4L615.0 514.6L615.6 512.6L616.2 511.8L616.8 512.2L617.4 513.0L618.0 513.4L618.6 514.2L619.2 515.1L619.8 515.0L620.4 515.4L621.0 515.3L621.6 514.3L622.2 513.8L622.8 513.1L623.4 512.6L624.0 512.2L624.7 511.4L625.3 510.5L625.9 509.7L626.5 509.1L627.1 509.1L627.7 509.9L628.3 510.4L628.9 510.5L629.5 509.3L630.1 507.8L630.7 506.6L631.3 505.7L631.9 506.8L632.5 508.4L633.1 509.6L633.7 511.1L634.3 512.4L634.9 512.6L635.5 513.7L636.1 513.6L636.7 513.6L637.3 514.7L637.9 514.7L638.5 514.1L639.1 512.8L639.7 510.9L640.3 509.7L640.9 509.1L641.5 508.2L642.1 506.7L642.7 506.1L643.3 507.4L643.9 508.3L644.5 509.1L645.1 509.8L645.7 509.8L646.3 510.4L646.9 513.2L647.5 515.8L648.1 518.0L648.7 520.9L649.3 524.1L649.9 526.5L650.5 527.7L651.1 529.2L651.7 530.3L652.3 531.4L652.9 532.8L653.5 533.8L654.1 534.4L654.7 535.1L655.3 535.8L655.9 536.4L656.5 536.9L657.1 537.7L657.7 538.7L658.3 539.7L658.9 540.5L659.5 541.6L660.1 543.5L660.7 544.7L661.3 546.2L661.9 547.4L662.5 548.4L663.1 549.6L663.7 551.0L664.4 551.5L665.0 551.2L665.6 550.9L666.2 548.7L666.8 546.4L667.4 546.4L668.0 545.4L668.6 544.2L669.2 542.5L669.8 540.6L670.4 538.4L671.0 534.7L671.6 532.0L672.2 529.5L672.8 529.2L673.4 530.0L674.0 530.3L674.6 530.7L675.2 532.0L675.8 531.9L676.4 531.3L677.0 531.8L677.6 532.6L678.2 532.7L678.8 533.5L679.4 532.8L680.0 532.1L680.6 532.5L681.2 533.7L681.8 534.8L682.4 535.1L683.0 533.8L683.6 533.2L684.2 535.6L684.8 539.4L685.4 542.9L686.0 546.0L686.6 549.8L687.2 552.8L687.8 555.3L688.4 558.0L689.0 560.8L689.6 563.6L690.2 565.7L690.8 568.5L691.4 571.8L692.0 574.7L692.6 578.2L693.2 581.2L693.8 583.8L694.4 586.9L695.0 589.6L695.6 592.4L696.2 594.5L696.8 597.1L697.4 599.7L698.0 602.4L698.6 605.3L699.2 607.9L699.8 610.5L700.4 613.2L701.0 616.9L701.6 619.2L702.2 620.2L702.8 621.8L703.4 623.5L704.0 625.4L704.7 628.4L705.3 629.8"/>
<path stroke="#1c34fa" stroke-width="1.3" d="M809.4 524V450.5M261 625L261.6 630.2"/>
<path stroke="#fc0d1b" stroke-width="1.2" d="M240.2 630.2V621"/>
<path stroke="#6a5cf8" stroke-width="0.8" d="M809.4 630.3V524"/>
<path stroke="#3a48f6" stroke-width="0.9" d="M261.5 630.3H705.5"/>
<path stroke="#6a5cf0" stroke-width="0.9" d="M705.5 630.3H809.4"/>
<path stroke="#f48a36" stroke-width="0.9" d="M196 630.3H240.2M809.6 630.3H869.2"/>
</g>
<g font-size="16" text-anchor="middle" fill="#000">
<text x="243.5" y="666">3741200</text>
<text x="363.5" y="666">3741400</text>
<text x="483.5" y="666">3741600</text>
<text x="603.5" y="666">3741800</text>
<text x="723.5" y="666">3742000</text>
<text x="843.5" y="666">3742200</text>
<text x="532.5" y="704">Coordinate in Reference Genome</text>
<text transform="translate(173 375.2) rotate(-90)">70</text>
<text transform="translate(173 411.7) rotate(-90)">60</text>
<text transform="translate(173 448.3) rotate(-90)">50</text>
<text transform="translate(173 484.8) rotate(-90)">40</text>
<text transform="translate(173 521.4) rotate(-90)">30</text>
<text transform="translate(173 557.9) rotate(-90)">20</text>
<text transform="translate(173 594.5) rotate(-90)">10</text>
<text transform="translate(173 631.0) rotate(-90)">0</text>
<text transform="translate(134.5 489.8) rotate(-90)">Read Coverage Depth</text>
</g>
<g font-size="12" fill="#000">
<g stroke="#000" stroke-width="0.8">
<rect x="197.4" y="731.4" width="8.4" height="7.2" fill="#1c34fa"/>
<rect x="306.8" y="731.4" width="8.4" height="7.2" fill="#14fefe"/>
<rect x="416.5" y="731.4" width="8.4" height="7.2" fill="#a032ee"/>
<rect x="526.3" y="731.4" width="8.4" height="7.2" fill="#fc0d1b"/>
<rect x="635.9" y="731.4" width="8.4" height="7.2" fill="#fffb46"/>
<rect x="745.4" y="731.4" width="8.4" height="7.2" fill="#fda428"/>
</g>
<text x="216.3" y="739.7">unique total</text>
<text x="326.2" y="739.7">unique top</text>
<text x="435.8" y="739.7">unique bottom</text>
<text x="545.3" y="739.7">repeat total</text>
<text x="655" y="739.7">repeat top</text>
<text x="764.5" y="739.7">repeat bottom</text>
</g>
</svg>
</body>
</html>
